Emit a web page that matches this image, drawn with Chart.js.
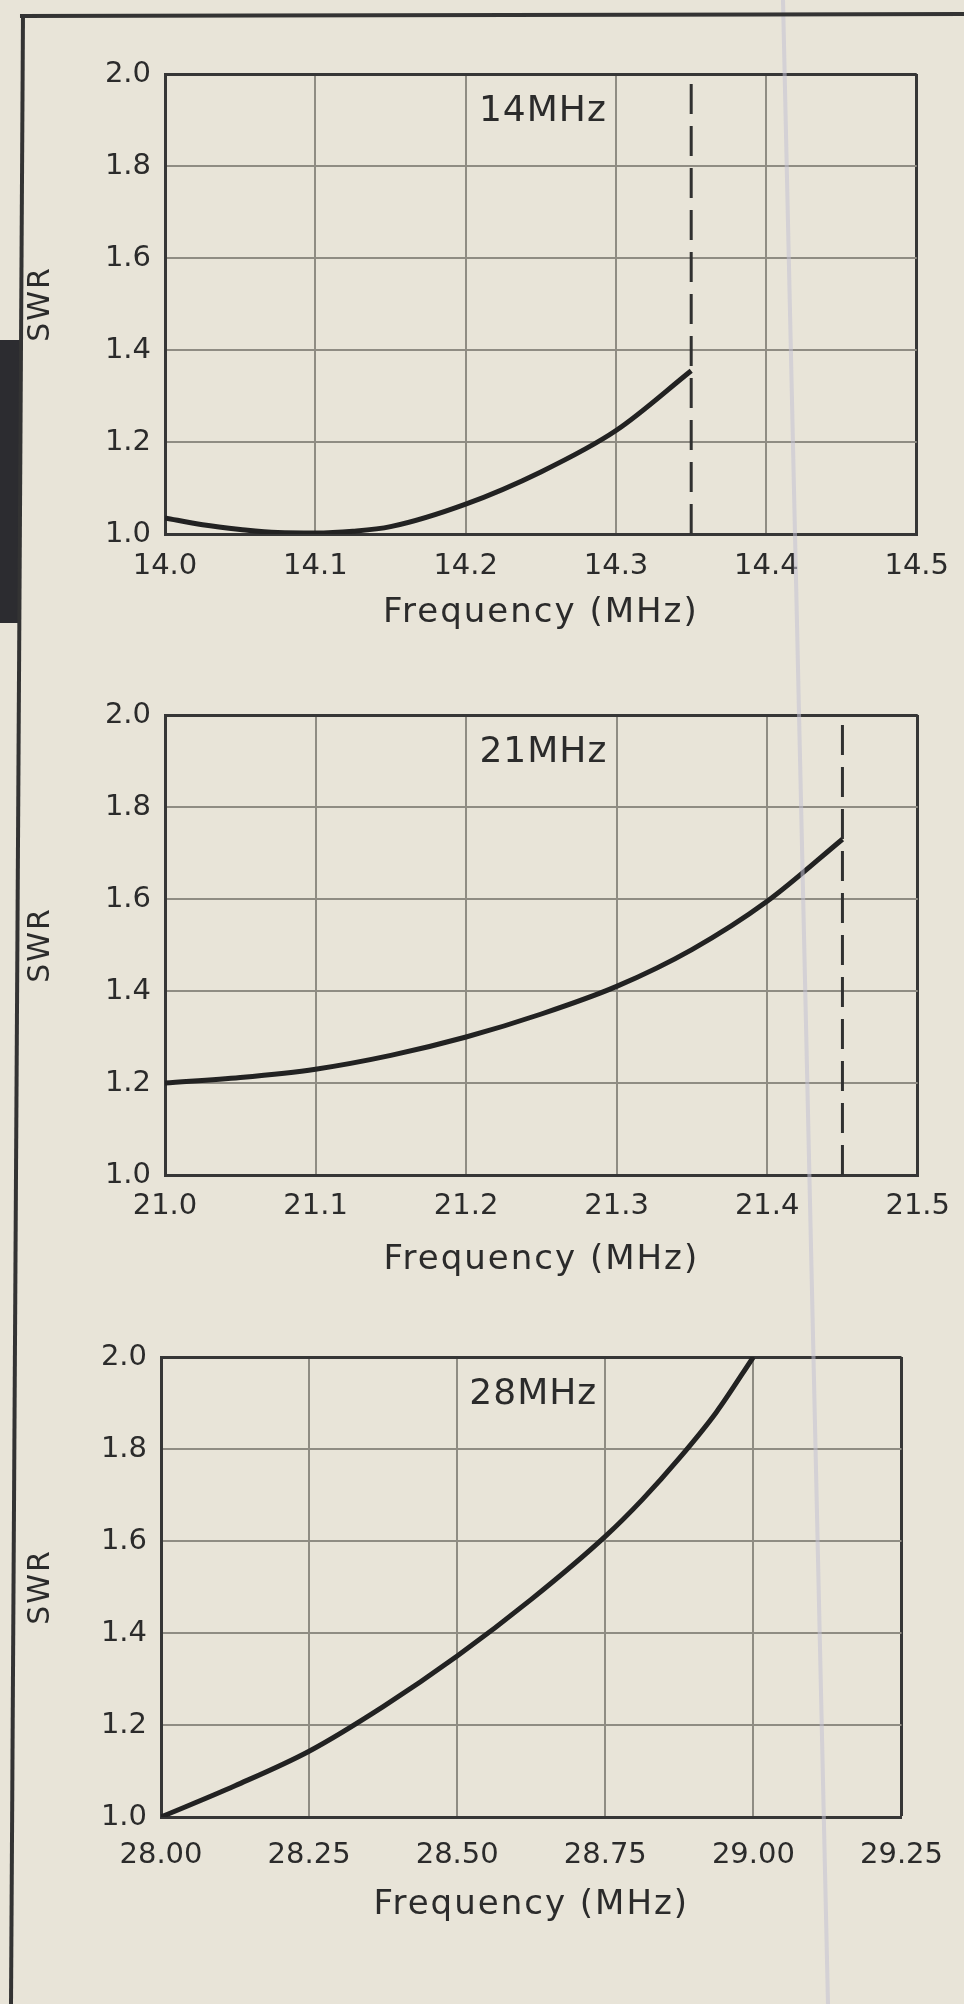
<!DOCTYPE html>
<html>
<head>
<meta charset="utf-8">
<title>SWR vs Frequency</title>
<script src="https://cdn.jsdelivr.net/npm/chart.js@4.4.1/dist/chart.umd.min.js"></script>
<style>
  html, body { margin: 0; padding: 0; background: #e8e4d8; }
  #page { position: relative; width: 964px; height: 2004px; overflow: hidden; background: #e8e4d8; }
  #page canvas { position: absolute; left: 0; }
  #edgeTab { position: absolute; left: 0; top: 340px; width: 20px; height: 283px; background: #2c2c30; }
  #frame { position: absolute; left: 0; top: 0; pointer-events: none; }
</style>
</head>
<body>
<div id="page">
  <div id="edgeTab"></div>
  <canvas id="chart14" width="964" height="614" style="top:30px"></canvas>
  <canvas id="chart21" width="964" height="614" style="top:671px"></canvas>
  <canvas id="chart28" width="964" height="614" style="top:1313px"></canvas>
  <svg id="frame" width="964" height="2004">
    <line x1="783" y1="0" x2="828" y2="2004" stroke="#c3c1d3" stroke-width="4" opacity="0.55"/>
    <line x1="20" y1="16" x2="964" y2="14" stroke="#333" stroke-width="4"/>
    <line x1="23" y1="14" x2="11" y2="2004" stroke="#333" stroke-width="4"/>
  </svg>
</div>
<script>
// SWR axis, shared by all three panels
const swrTicks = [1.0, 1.2, 1.4, 1.6, 1.8, 2.0];

// 14 MHz band
const ticks14 = [14.0, 14.1, 14.2, 14.3, 14.4, 14.5];
const freq14 = [14.0, 14.025, 14.05, 14.075, 14.1, 14.125, 14.15, 14.2, 14.25, 14.3, 14.35];
const swr14 = [1.035, 1.02, 1.01, 1.003, 1.002, 1.006, 1.016, 1.065, 1.135, 1.225, 1.355];
const edge14 = 14.35;

// 21 MHz band
const ticks21 = [21.0, 21.1, 21.2, 21.3, 21.4, 21.5];
const freq21 = [21.0, 21.05, 21.1, 21.15, 21.2, 21.25, 21.3, 21.35, 21.4, 21.45];
const swr21 = [1.2, 1.212, 1.23, 1.26, 1.3, 1.35, 1.41, 1.49, 1.595, 1.73];
const edge21 = 21.45;

// 28 MHz band
const ticks28 = [28.0, 28.25, 28.5, 28.75, 29.0, 29.25];
const freq28 = [28.0, 28.125, 28.25, 28.375, 28.5, 28.625, 28.75, 28.8125, 28.875, 28.9375, 29.0];
const swr28 = [1.0, 1.068, 1.143, 1.24, 1.35, 1.473, 1.61, 1.69, 1.78, 1.88, 2.0];

const TEXT = "#2b2b2b";
const FRAME = "#363636";
const GRID = "#8f8c83";
const INK = "#222222";
const FONT = '"DejaVu Sans", "Liberation Sans", sans-serif';

// axis titles in the print are a little loosely set, tick labels are not
const spacedTitles = {
  id: "spacedTitles",
  beforeDraw(chart) {
    chart.ctx.letterSpacing = "2px";
  },
  beforeDatasetsDraw(chart) {
    chart.ctx.letterSpacing = "0px";
  },
};

const bandLabel = {
  id: "bandLabel",
  afterDatasetsDraw(chart, args, opts) {
    const { ctx, chartArea } = chart;
    ctx.save();
    ctx.letterSpacing = "1px";
    ctx.font = "36px " + FONT;
    ctx.fillStyle = TEXT;
    ctx.textAlign = "center";
    ctx.textBaseline = "alphabetic";
    ctx.fillText(opts.text, (chartArea.left + chartArea.right) / 2 + 2, chartArea.top + 47);
    ctx.restore();
  },
};

function makeChart(id, cfg) {
  const xMax = cfg.ticks[cfg.ticks.length - 1];
  const yMin = swrTicks[0];
  const yMax = swrTicks[swrTicks.length - 1];

  const datasets = [
    {
      data: cfg.freq.map((f, i) => ({ x: f, y: cfg.swr[i] })),
      borderColor: INK,
      borderWidth: 5,
      pointRadius: 0,
      cubicInterpolationMode: "monotone",
      fill: false,
    },
  ];

  if (cfg.edge !== undefined) {
    datasets.push({
      data: [
        { x: cfg.edge, y: yMin },
        { x: cfg.edge, y: yMax },
      ],
      borderColor: "#303030",
      borderWidth: 3,
      borderDash: [30, 12],
      pointRadius: 0,
      fill: false,
    });
  }

  return new Chart(document.getElementById(id), {
    type: "line",
    data: { datasets },
    plugins: [spacedTitles, bandLabel],
    options: {
      responsive: false,
      animation: false,
      events: [],
      layout: {
        padding: { left: 20, top: 44, right: 964 - cfg.plotRight, bottom: 0 },
      },
      plugins: {
        legend: { display: false },
        tooltip: { enabled: false },
        bandLabel: { text: cfg.label },
      },
      scales: {
        x: {
          type: "linear",
          min: cfg.ticks[0],
          max: xMax,
          afterBuildTicks: (scale) => {
            scale.ticks = cfg.ticks.map((v) => ({ value: v }));
          },
          afterFit: (scale) => {
            scale.height = 110;
          },
          ticks: {
            z: 1,
            padding: cfg.tickPad,
            color: TEXT,
            font: { family: FONT, size: 29 },
            maxRotation: 0,
            autoSkip: false,
            callback: (value) => Number(value).toFixed(cfg.digits),
          },
          grid: {
            drawTicks: false,
            color: (ctx) => (ctx.tick && ctx.tick.value === xMax ? FRAME : GRID),
            lineWidth: (ctx) => (ctx.tick && ctx.tick.value === xMax ? 3 : 2),
          },
          border: { color: FRAME, width: 3 },
          title: {
            display: true,
            text: "Frequency (MHz)",
            color: TEXT,
            font: { family: FONT, size: 34 },
            padding: { top: 0, bottom: cfg.titlePad },
          },
        },
        y: {
          type: "linear",
          min: yMin,
          max: yMax,
          afterBuildTicks: (scale) => {
            scale.ticks = swrTicks.map((v) => ({ value: v }));
          },
          afterFit: (scale) => {
            scale.width = cfg.plotLeft - 20;
          },
          ticks: {
            z: 1,
            padding: 14,
            color: TEXT,
            font: { family: FONT, size: 29 },
            callback: (value) => Number(value).toFixed(1),
          },
          grid: {
            drawTicks: false,
            color: (ctx) => (ctx.tick && ctx.tick.value === yMax ? FRAME : GRID),
            lineWidth: (ctx) => (ctx.tick && ctx.tick.value === yMax ? 3 : 2),
          },
          border: { color: FRAME, width: 3 },
          title: {
            display: true,
            text: "SWR",
            color: TEXT,
            font: { family: FONT, size: 30 },
            padding: { top: 3, bottom: 0 },
          },
        },
      },
    },
  });
}

makeChart("chart14", {
  label: "14MHz",
  ticks: ticks14,
  freq: freq14,
  swr: swr14,
  edge: edge14,
  digits: 1,
  plotLeft: 165,
  plotRight: 923,
  tickPad: 15,
  titlePad: 10,
});

makeChart("chart21", {
  label: "21MHz",
  ticks: ticks21,
  freq: freq21,
  swr: swr21,
  edge: edge21,
  digits: 1,
  plotLeft: 165,
  plotRight: 922,
  tickPad: 14,
  titlePad: 4,
});

makeChart("chart28", {
  label: "28MHz",
  ticks: ticks28,
  freq: freq28,
  swr: swr28,
  digits: 2,
  plotLeft: 161,
  plotRight: 921,
  tickPad: 21,
  titlePad: 1,
});
</script>
</body>
</html>
